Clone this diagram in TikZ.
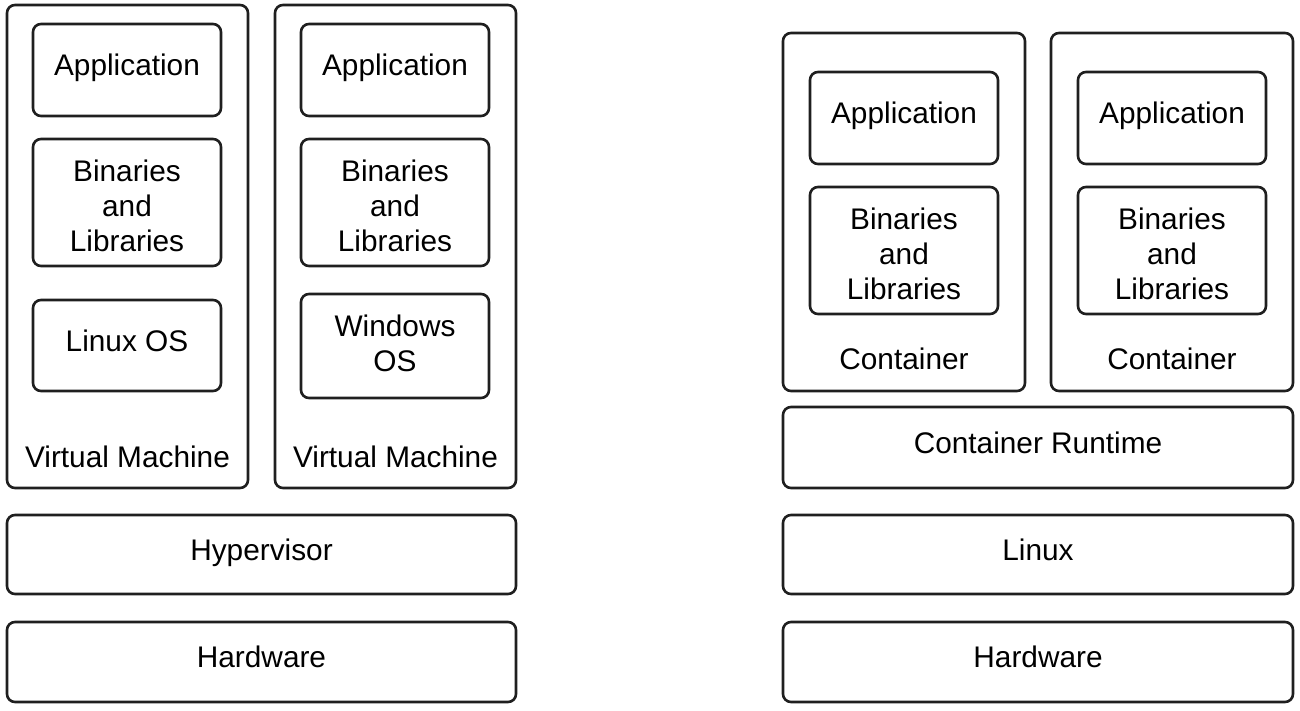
\documentclass[tikz,border=0pt]{standalone}
\usepackage{fontspec}
\setmainfont{Liberation Sans}
\begin{document}
\begin{tikzpicture}[x=1pt,y=-1pt,
  box/.style={draw=black!88, line width=2.6pt, rounded corners=8pt, inner sep=0pt, outer sep=0pt, align=center, text depth=10pt, font=\fontsize{29.8}{35}\selectfont},
  lbl/.style={inner sep=0pt, align=center, font=\fontsize{29.8}{35}\selectfont}]
\useasboundingbox (0,0) rectangle (1300,711);
% Left: virtual machines
\node[box, minimum width=241pt, minimum height=483pt] (vm1) at (127.5,246.5) {};
\node[box, minimum width=241pt, minimum height=483pt] (vm2) at (395.5,246.5) {};
\node[box, minimum width=188pt, minimum height=92pt] (app1) at (127,70) {Application};
\node[box, minimum width=188pt, minimum height=127pt] (bin1) at (127,202.5) {};
\node[lbl] (bin1t) at (127,205.5) {Binaries\\and\\Libraries};
\node[box, minimum width=188pt, minimum height=91pt] (os1) at (127,345.5) {Linux OS};
\node[box, minimum width=188pt, minimum height=92pt] (app2) at (395,70) {Application};
\node[box, minimum width=188pt, minimum height=127pt] (bin2) at (395,202.5) {};
\node[lbl] (bin2t) at (395,205.5) {Binaries\\and\\Libraries};
\node[box, minimum width=188pt, minimum height=104pt] (os2) at (395,346) {};
\node[lbl] (os2t) at (395,343) {Windows\\OS};
\node[lbl] (vml1) at (127.5,457) {Virtual Machine};
\node[lbl] (vml2) at (395.5,457) {Virtual Machine};
\node[box, minimum width=509pt, minimum height=79pt] (hyp) at (261.5,554.5) {Hypervisor};
\node[box, minimum width=509pt, minimum height=80pt] (hwl) at (261.5,662) {Hardware};
% Right: containers
\node[box, minimum width=242pt, minimum height=358pt] (c1) at (904,212) {};
\node[box, minimum width=242pt, minimum height=358pt] (c2) at (1172,212) {};
\node[box, minimum width=188pt, minimum height=92pt] (capp1) at (904,118) {Application};
\node[box, minimum width=188pt, minimum height=127pt] (cbin1) at (904,250.5) {};
\node[lbl] (cbin1t) at (904,253.5) {Binaries\\and\\Libraries};
\node[box, minimum width=188pt, minimum height=92pt] (capp2) at (1172,118) {Application};
\node[box, minimum width=188pt, minimum height=127pt] (cbin2) at (1172,250.5) {};
\node[lbl] (cbin2t) at (1172,253.5) {Binaries\\and\\Libraries};
\node[lbl] (cl1) at (904,359) {Container};
\node[lbl] (cl2) at (1172,359) {Container};
\node[box, minimum width=510pt, minimum height=81pt] (rt) at (1038,447.5) {Container Runtime};
\node[box, minimum width=510pt, minimum height=79pt] (lnx) at (1038,554.5) {Linux};
\node[box, minimum width=510pt, minimum height=80pt] (hwr) at (1038,662) {Hardware};
\end{tikzpicture}
\end{document}
